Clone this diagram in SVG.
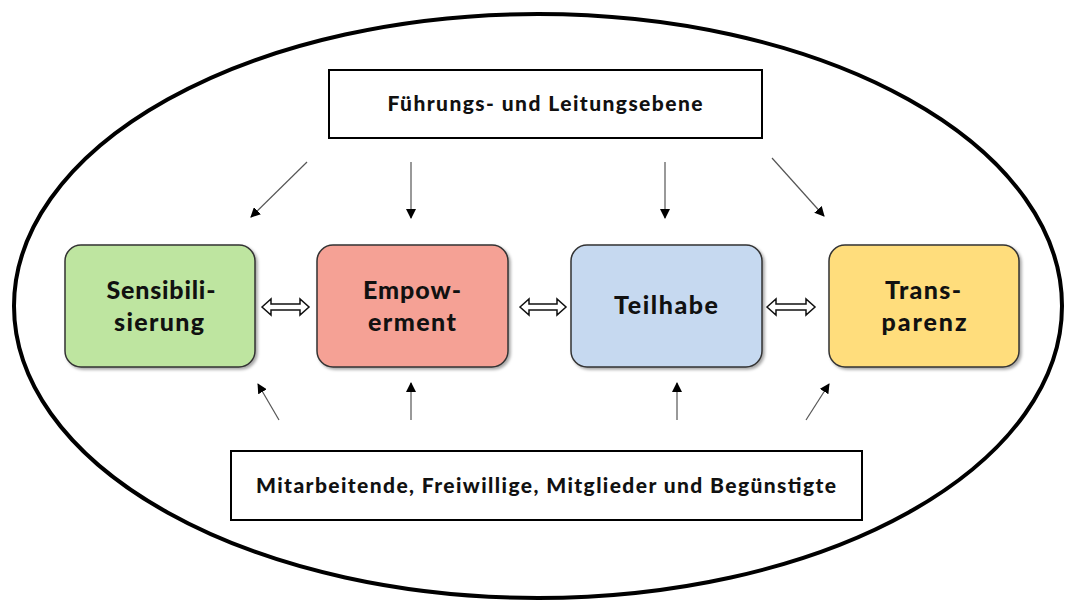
<svg xmlns="http://www.w3.org/2000/svg" width="1067" height="603" viewBox="0 0 1067 603">
<style>
.box{stroke:#333;stroke-width:1.5}
.lbl{font-family:"Lato","Liberation Sans",sans-serif;font-weight:900;font-size:25px;fill:#111;text-anchor:middle}
.sm{font-family:"Lato","Liberation Sans",sans-serif;font-weight:900;font-size:21px;fill:#111;text-anchor:middle}
.con{stroke:#555;stroke-width:1.2;fill:none;marker-end:url(#ah)}
.dbl{fill:#fff;stroke:#111;stroke-width:1.5;stroke-linejoin:miter}
</style>
<defs>
<marker id="ah" viewBox="0 0 10 10" refX="9" refY="5" markerWidth="10" markerHeight="10" markerUnits="userSpaceOnUse" orient="auto"><path d="M0,0 L10,5 L0,10 z" fill="#000"/></marker>
<filter id="sh" x="-10%" y="-10%" width="130%" height="130%"><feDropShadow dx="2" dy="2" stdDeviation="1.5" flood-color="#000" flood-opacity="0.35"/></filter>
</defs>
<rect width="1067" height="603" fill="#fff"/>
<ellipse cx="538" cy="306" rx="524" ry="292" fill="none" stroke="#000" stroke-width="4"/>
<g id="top"><rect x="329" y="70" width="433" height="68" fill="#fff" stroke="#000" stroke-width="2"/><text class="sm" x="545" y="111" textLength="315">Führungs- und Leitungsebene</text></g>
<g id="bottom"><rect x="231" y="451" width="631" height="69" fill="#fff" stroke="#000" stroke-width="2"/><text class="sm" x="546" y="493" textLength="580">Mitarbeitende, Freiwillige, Mitglieder und Begünstigte</text></g>
<g id="n1"><rect class="box" x="65" y="245" width="190" height="122" rx="16" fill="#BEE5A0" filter="url(#sh)"/><text class="lbl" x="161" y="299" textLength="109">Sensibili-</text><text class="lbl" x="159" y="331" textLength="90">sierung</text></g>
<g id="n2"><rect class="box" x="317" y="245" width="191" height="122" rx="16" fill="#F5A195" filter="url(#sh)"/><text class="lbl" x="412" y="299" textLength="98">Empow-</text><text class="lbl" x="412" y="331" textLength="88">erment</text></g>
<g id="n3"><rect class="box" x="571" y="245" width="191" height="122" rx="16" fill="#C6D9F0" filter="url(#sh)"/><text class="lbl" x="666" y="314" textLength="104">Teilhabe</text></g>
<g id="n4"><rect class="box" x="829" y="245" width="190" height="122" rx="16" fill="#FFDD7B" filter="url(#sh)"/><text class="lbl" x="923" y="299" textLength="76">Trans-</text><text class="lbl" x="924" y="331" textLength="85">parenz</text></g>
<g id="connectors">
<line class="con" x1="307" y1="162" x2="251" y2="217"/>
<line class="con" x1="411" y1="162" x2="411" y2="218"/>
<line class="con" x1="665" y1="162" x2="665" y2="218"/>
<line class="con" x1="772" y1="158" x2="824" y2="216"/>
<line class="con" x1="279" y1="420" x2="258" y2="384"/>
<line class="con" x1="411" y1="420" x2="411" y2="383"/>
<line class="con" x1="677" y1="420" x2="677" y2="383"/>
<line class="con" x1="806" y1="420" x2="829" y2="384"/>
<polygon class="dbl" points="262,307 271,299 271,304 300,304 300,299 309,307 300,315 300,310 271,310 271,315"/>
<polygon class="dbl" points="520,307 529,299 529,304 557,304 557,299 566,307 557,315 557,310 529,310 529,315"/>
<polygon class="dbl" points="767,307 776,299 776,304 806,304 806,299 815,307 806,315 806,310 776,310 776,315"/>
</g>
</svg>
